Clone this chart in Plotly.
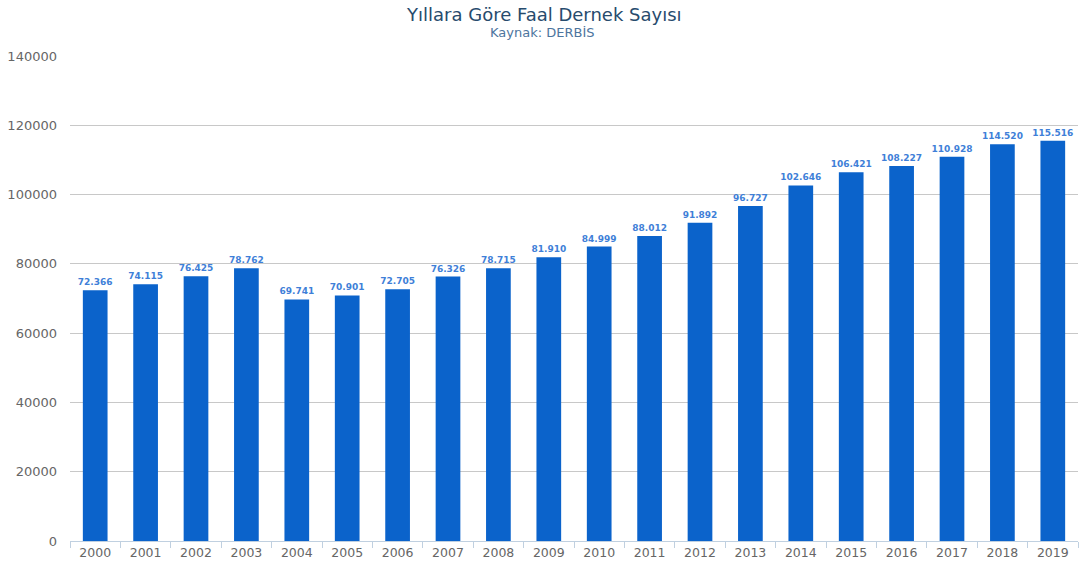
import plotly.graph_objects as go

years = [str(y) for y in range(2000, 2020)]
values = [72366, 74115, 76425, 78762, 69741, 70901, 72705, 76326, 78715, 81910,
          84999, 88012, 91892, 96727, 102646, 106421, 108227, 110928, 114520, 115516]
y_ticks = [0, 20000, 40000, 60000, 80000, 100000, 120000, 140000]

FONT = "DejaVu Sans"
W, H = 1082, 566
L, R, T, B = 70, 4, 56, 25
PH = H - T - B
PW = W - L - R
CX = (541 - L) / PW

fig = go.Figure(go.Bar(
    x=years, y=values,
    marker=dict(color="#0b63cb", line=dict(width=0)),
    texttemplate="%{y:,}",
    textposition="outside",
    constraintext="none",
    textfont=dict(family=FONT, size=9, color="#3f7fd8", weight="bold"),
    cliponaxis=False,
))

fig.update_layout(
    width=W, height=H,
    margin=dict(l=L, r=R, t=T, b=B),
    paper_bgcolor="white", plot_bgcolor="white",
    separators=",.",
    bargap=0.51,
    showlegend=False,
    font=dict(family=FONT),
    annotations=[
        dict(text="Yıllara Göre Faal Dernek Sayısı", xref="paper", yref="paper",
             x=(544 - L) / PW, y=1 + (T - 14) / PH, xanchor="center", yanchor="middle",
             showarrow=False, font=dict(family=FONT, size=18, color="#274b6d")),
        dict(text="Kaynak: DERBİS", xref="paper", yref="paper",
             x=(542 - L) / PW, y=1 + (T - 33) / PH, xanchor="center", yanchor="middle",
             showarrow=False, font=dict(family=FONT, size=13, color="#4d759e")),
    ],
)

fig.update_xaxes(
    type="category",
    tickson="boundaries",
    ticks="outside", ticklen=6, tickcolor="#c0d0e0", tickwidth=1,
    showline=True, linecolor="#c0d0e0", linewidth=1,
    showgrid=False,
    tickfont=dict(family=FONT, size=12.5, color="#666666"),
)

fig.update_yaxes(
    range=[0, 140000],
    tickvals=y_ticks, tickformat="d",
    showgrid=True, gridcolor="#c8c8c8", gridwidth=1,
    zeroline=False,
    tickfont=dict(family=FONT, size=13, color="#666666"),
    ticks="", ticklabelstandoff=12,
)

fig.write_html("out.html", config={"displayModeBar": False},
               post_script="document.body.style.margin='0';")
